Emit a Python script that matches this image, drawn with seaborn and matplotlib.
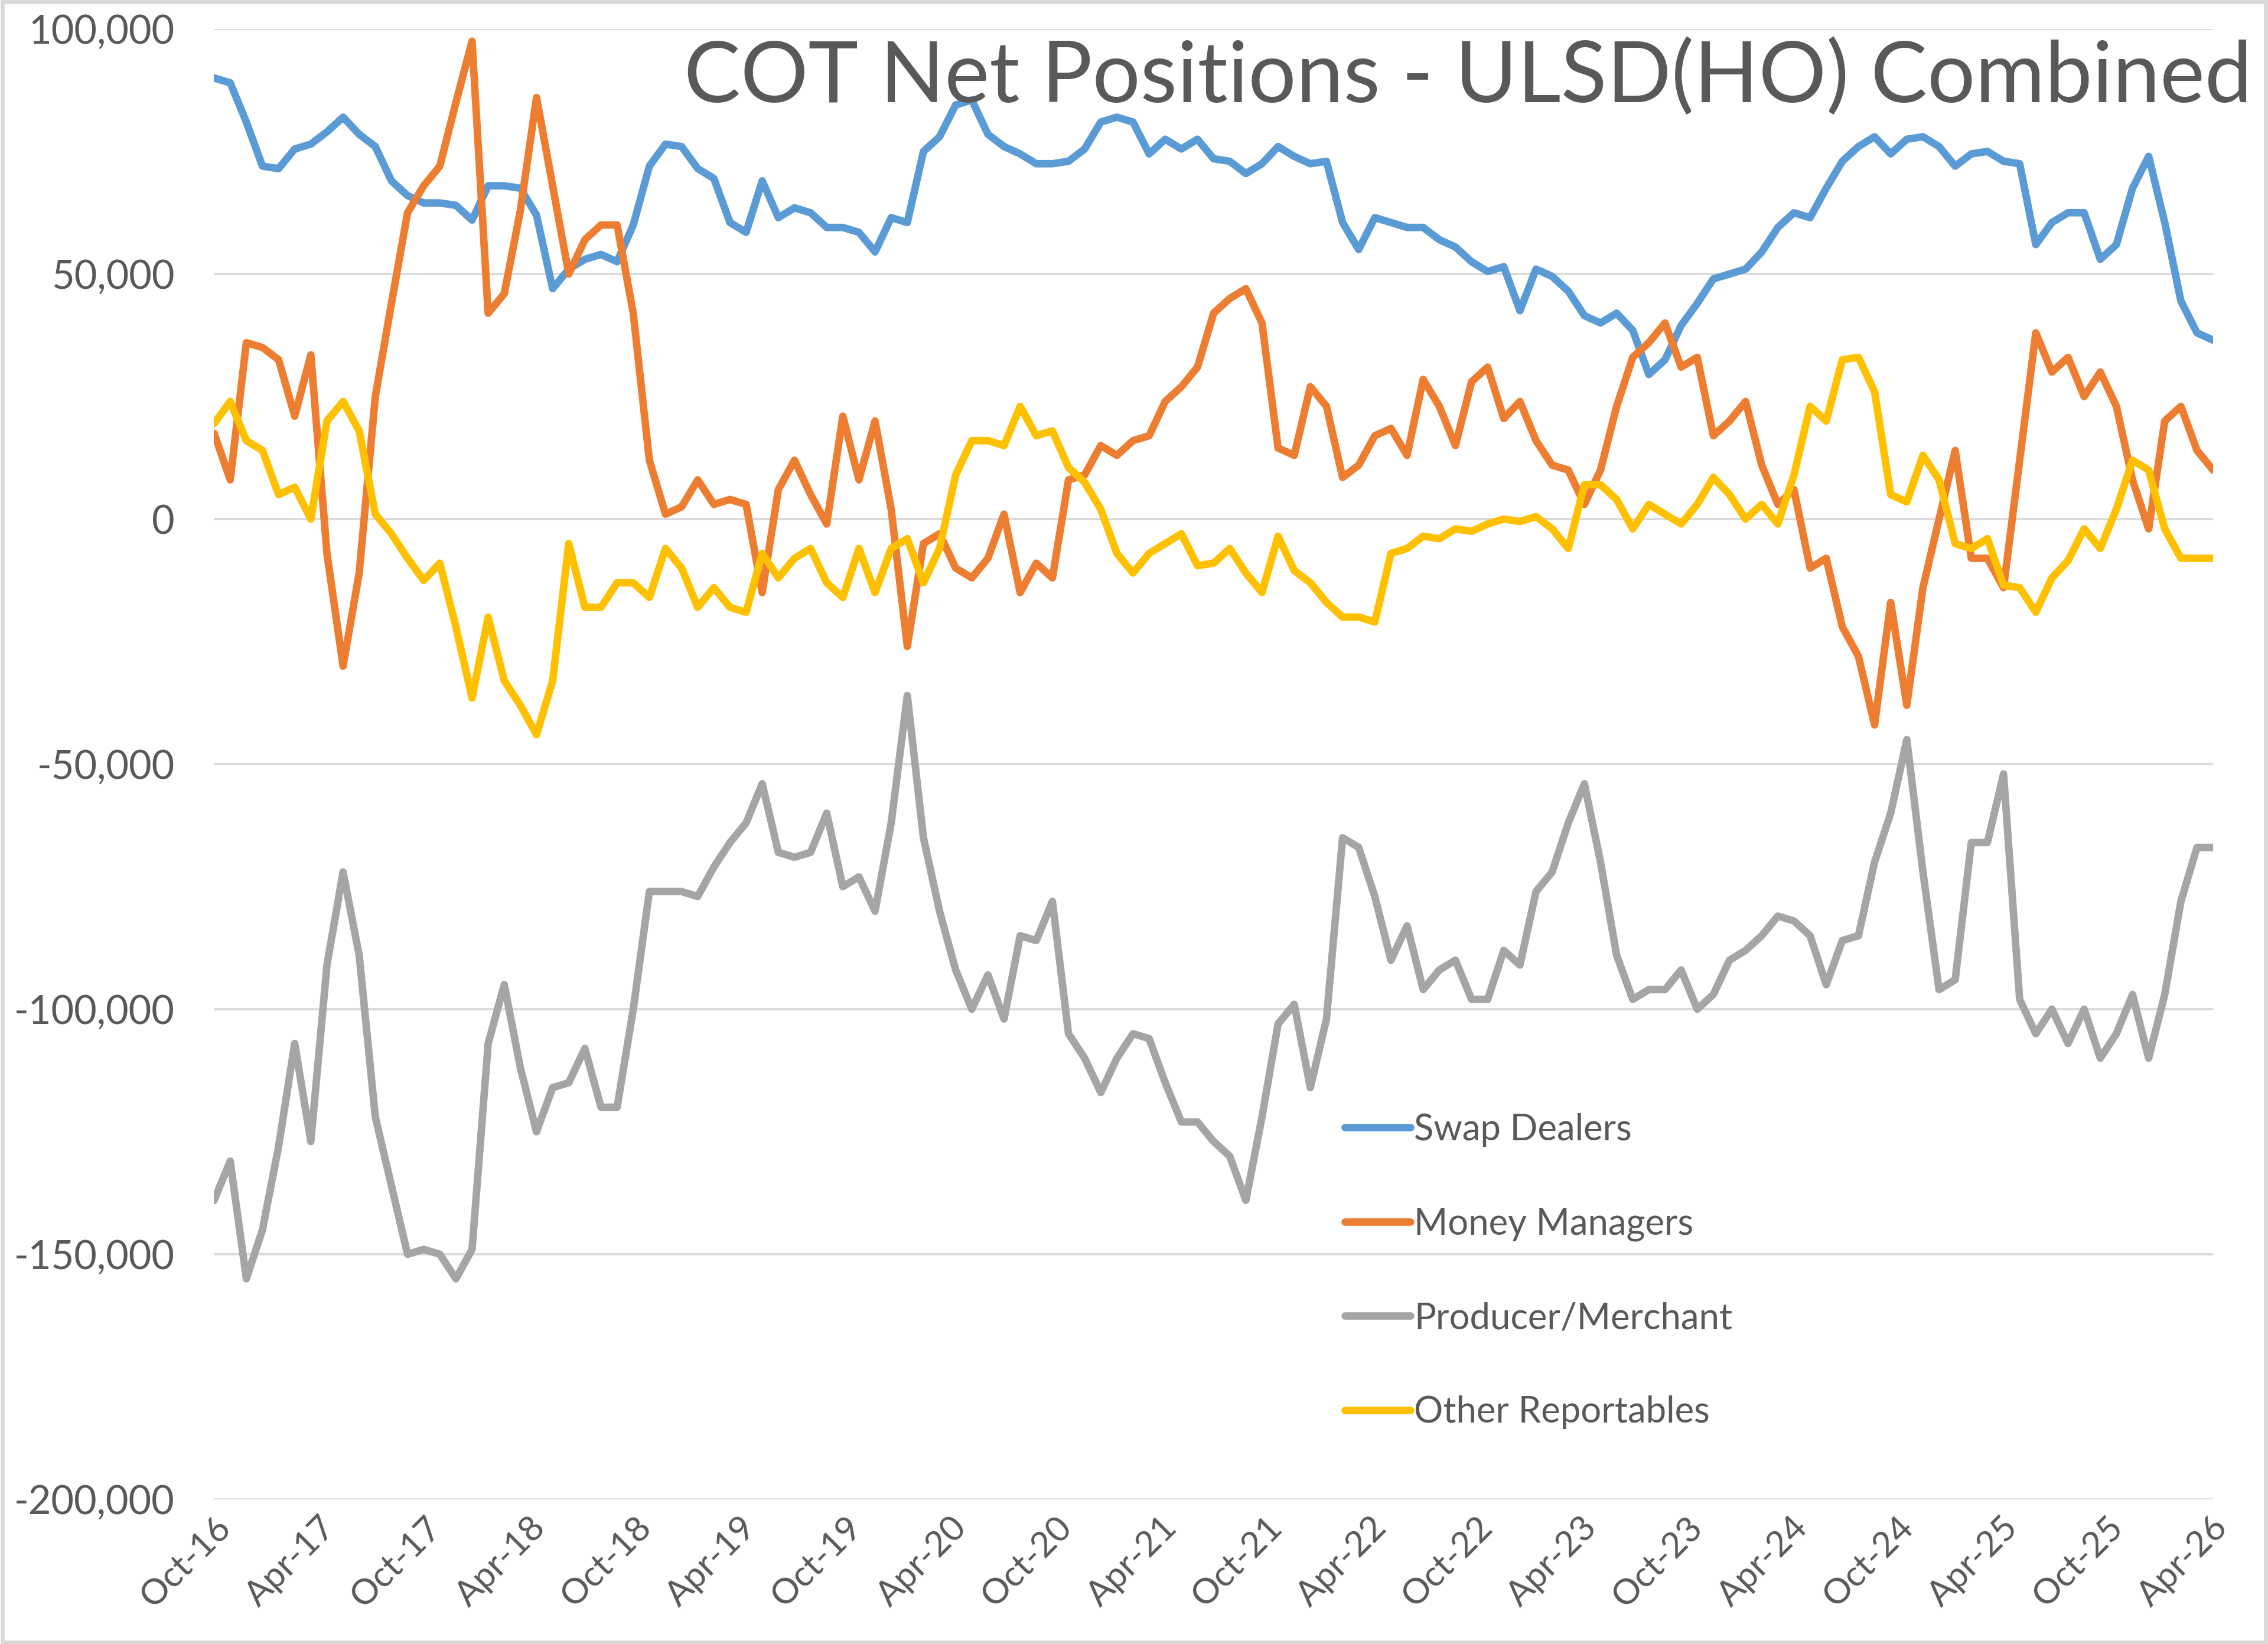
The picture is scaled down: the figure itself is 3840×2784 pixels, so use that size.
import pandas as pd
import numpy as np
import matplotlib
matplotlib.use('Agg')
import matplotlib.pyplot as plt
from matplotlib.ticker import FuncFormatter
from matplotlib.patches import Rectangle
import seaborn as sns

# weekly COT report sampled every 4 weeks, values in thousands of contracts
start_date = '2016-10-04'
n_points = 125

swap_dealers = [90, 89, 81, 72, 71.5, 75.5, 76.5, 79, 82, 78.5, 76, 69, 66, 64.5, 64.5, 64, 61,
                68, 68, 67.5, 62, 47, 51, 53, 54, 52.5, 60, 72, 76.5, 76, 71.5, 69.5, 60.5,
                58.5, 69, 61.5, 63.5, 62.5, 59.5, 59.5, 58.5, 54.5, 61.5, 60.5, 75, 78, 84.5, 85.5,
                78.5, 76, 74.5, 72.5, 72.5, 73, 75.5, 81, 82, 81, 74.5, 77.5, 75.5, 77.5, 73.5, 73,
                70.5, 72.5, 76, 74, 72.5, 73, 60.5, 55, 61.5, 60.5, 59.5, 59.5, 57, 55.5, 52.5, 50.5,
                51.5, 42.5, 51, 49.5, 46.5, 41.5, 40, 42, 38.5, 29.5, 32.5, 39.5, 44, 49, 50, 51,
                54.5, 59.5, 62.5, 61.5, 67.5, 73, 76, 78, 74.5, 77.5, 78, 76, 72, 74.5, 75, 73,
                72.5, 56, 60.5, 62.5, 62.5, 53, 56, 67.5, 74, 60.5, 44.5, 38, 36.5]

money_managers = [17.5, 8, 36, 35, 32.5, 21, 33.5, -7, -30, -11, 25, 44, 62.5, 68, 72, 85, 97.5,
                  42, 46, 63, 86, 68, 50, 57, 60, 60, 42, 12, 1, 2.5, 8, 3, 4,
                  3, -15, 6, 12, 5, -1, 21, 8, 20, 2, -26, -5, -3, -10, -12,
                  -8, 1, -15, -9, -12, 8, 9, 15, 13, 16, 17, 24, 27, 31, 42, 45,
                  47, 40, 14.5, 13, 27, 23, 8.5, 11, 17, 18.5, 13, 28.5, 23, 15, 28, 31,
                  20.5, 24, 16, 11, 10, 3, 10, 23, 33, 36, 40, 31, 33, 17, 20, 24,
                  11, 3, 6, -10, -8, -22, -28, -42, -17, -38, -14, 0, 14, -8, -8, -14,
                  12, 38, 30, 33, 25, 30, 23, 8, -2, 20, 23, 14, 10]

producer_merchant = [-139, -131, -155, -145, -128, -107, -127, -91, -72, -89, -122, -136, -150, -149,
                     -150, -155, -149, -107, -95, -112, -125, -116, -115, -108, -120, -120, -100,
                     -76, -76, -76, -77, -71, -66,
                     -62, -54, -68, -69, -68, -60, -75, -73, -80, -62, -36, -65, -80, -92, -100,
                     -93, -102, -85, -86, -78, -105, -110, -117, -110, -105, -106, -115, -123, -123,
                     -127, -130,
                     -139, -122, -103, -99, -116, -102, -65, -67, -77, -90, -83, -96, -92, -90, -98,
                     -98, -88, -91, -76, -72, -62, -54, -70, -89, -98, -96, -96, -92, -100, -97,
                     -90, -88,
                     -85, -81, -82, -85, -95, -86, -85, -70, -60, -45, -72, -96, -94, -66, -66, -52,
                     -98, -105, -100, -107, -100, -110, -105, -97, -110, -97, -78, -67, -67]

other_reportables = [19.5, 24, 16, 14, 5, 6.5, 0, 20, 24, 18, 1, -3, -8, -12.5, -9, -22, -36.5,
                     -20, -33, -38, -44, -33, -5, -18, -18, -13, -13, -16, -6, -10, -18, -14, -18,
                     -19, -7, -12, -8, -6, -13, -16, -6, -15, -6, -4, -13, -6, 9, 16,
                     16, 15, 23, 17, 18, 10.5, 7.5, 2, -7, -11, -7, -5, -3, -9.5, -9, -6,
                     -11, -15, -3.5, -10.5, -13, -17, -20, -20, -21, -7, -6, -3.5, -4, -2, -2.5, -1,
                     0, -0.5, 0.5, -2, -6, 7, 7, 4, -2, 3, 1, -1, 3, 8.5, 5, 0,
                     3, -1, 9, 23, 20, 32.5, 33, 26, 5, 3.5, 13, 8, -5, -6, -4, -13.5,
                     -14, -19, -12, -8.5, -2, -6, 2, 12, 10, -2, -8, -8, -8]

series_names = ['Swap Dealers', 'Money Managers', 'Producer/Merchant', 'Other Reportables']
series_colors = ['#5B9BD5', '#ED7D31', '#A5A5A5', '#FFC000']

dates = pd.date_range(start_date, periods=n_points, freq='28D')
frames = []
for name, vals in zip(series_names, [swap_dealers, money_managers,
                                     producer_merchant, other_reportables]):
    frames.append(pd.DataFrame({'date': dates,
                                'net': np.array(vals) * 1000,
                                'series': name}))
df = pd.concat(frames, ignore_index=True)

sns.set_theme(style='white')
plt.rcParams['font.family'] = ['Lato', 'DejaVu Sans']
text_color = '#595959'
lw = 3.8

fig = plt.figure(figsize=(16, 11.6), dpi=240)
ax = fig.add_axes([0.0944, 0.088, 0.8814, 0.8944])

sns.lineplot(data=df, x='date', y='net', hue='series', hue_order=series_names,
             palette=series_colors, linewidth=lw, ax=ax)
for line in ax.lines:
    line.set_solid_joinstyle('round')
    line.set_solid_capstyle('round')

ax.set_ylim(-200000, 100000)
ax.set_yticks(np.arange(-200000, 100001, 50000))
ax.yaxis.set_major_formatter(FuncFormatter(lambda v, p: '{:,.0f}'.format(v)))
ax.set_xlim(dates[0], dates[-1])
ticks = [pd.Timestamp(start_date) + pd.DateOffset(months=6 * i) for i in range(20)]
ax.set_xticks(ticks)
ax.set_xticklabels([t.strftime('%b-%y') for t in ticks], rotation=45, ha='right',
                   va='top', rotation_mode='anchor')
ax.tick_params(axis='y', labelsize=20, colors=text_color, length=0, pad=20)
ax.tick_params(axis='x', labelsize=18, colors=text_color, length=0, pad=6)
ax.grid(axis='y', color='#d9d9d9', linewidth=1.1)
ax.grid(axis='x', visible=False)
ax.set_axisbelow(True)
for s in ax.spines.values():
    s.set_visible(False)
ax.set_xlabel('')
ax.set_ylabel('')

handles, labels = ax.get_legend_handles_labels()
for h in handles:
    h.set_linewidth(lw)
    h.set_solid_capstyle('round')
leg = ax.legend(handles, labels, loc='upper left', bbox_to_anchor=(0.593, 0.323),
                bbox_transform=fig.transFigure, frameon=False, fontsize=18.5,
                handlelength=1.8, handletextpad=0.1, labelspacing=1.66, borderpad=0,
                borderaxespad=0)
for t in leg.get_texts():
    t.set_color(text_color)

fig.text(0.993, 0.938, 'COT Net Positions - ULSD(HO) Combined', ha='right', va='baseline',
         fontsize=43, color=text_color)

fig.patches.append(Rectangle((0.001, 0.001), 0.998, 0.998, transform=fig.transFigure,
                             fill=False, edgecolor='#d9d9d9', linewidth=2))

fig.savefig('out.png', dpi=240)
